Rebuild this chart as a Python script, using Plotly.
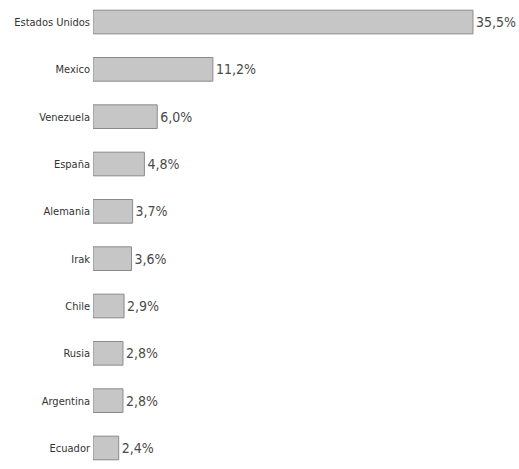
import plotly.graph_objects as go

countries = ["Estados Unidos", "Mexico", "Venezuela", "España", "Alemania",
             "Irak", "Chile", "Rusia", "Argentina", "Ecuador"]
values = [35.5, 11.2, 6.0, 4.8, 3.7, 3.6, 2.9, 2.8, 2.8, 2.4]
labels = ["35,5%", "11,2%", "6,0%", "4,8%", "3,7%", "3,6%", "2,9%", "2,8%", "2,8%", "2,4%"]

FONT = "Liberation Sans Narrow, DejaVu Sans Condensed, sans-serif"

fig = go.Figure(go.Bar(
    x=values, y=countries, orientation="h",
    text=labels, textposition="outside", cliponaxis=False,
    textfont=dict(size=14, color="#4a4a4a", family=FONT),
    marker=dict(color="#c6c6c6", line=dict(color="#8a8a8a", width=1)),
    width=0.5,
))

fig.update_layout(
    width=519, height=469,
    margin=dict(l=93, r=0, t=0, b=0),
    paper_bgcolor="white", plot_bgcolor="white",
    showlegend=False,
    xaxis=dict(range=[0, 39.8], visible=False),
    yaxis=dict(type="category", range=[9.444, -0.465], showgrid=False, zeroline=False,
               showline=False, ticks="", ticklabelstandoff=2,
               tickfont=dict(size=11, color="#333333", family=FONT)),
)

fig.write_html("out.html", config={"displayModeBar": False},
               post_script="document.body.style.margin='0';document.body.style.overflow='hidden';")
